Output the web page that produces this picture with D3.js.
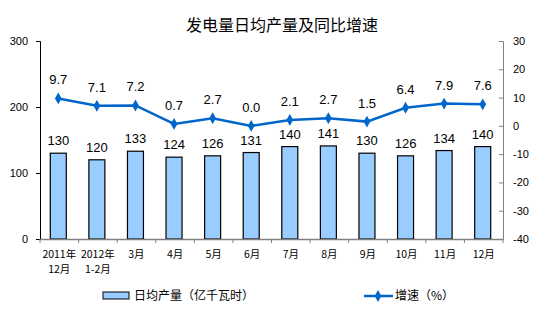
<!DOCTYPE html>
<html><head><meta charset="utf-8">
<script src="https://cdn.jsdelivr.net/npm/d3@7"></script>
<style>body{margin:0;background:#fff}svg{display:block}text{font-family:Arial,"Liberation Sans","Noto Sans CJK SC",sans-serif}</style>
</head><body><svg id="c" width="559" height="331"></svg>
<script>
const categories = ["2011年\n12月","2012年\n1-2月","3月","4月","5月","6月","7月","8月","9月","10月","11月","12月"];
const output = [130,120,133,124,126,131,140,141,130,126,134,140];
const growth = [9.7,7.1,7.2,0.7,2.7,0.0,2.1,2.7,1.5,6.4,7.9,7.6];
const leftTicks = [0,100,200,300];
const rightTicks = [-40,-30,-20,-10,0,10,20,30];

const svg = d3.select("#c");
const L=40,R=503,T=41,B=239;
const x = d3.scaleBand().domain(categories).range([L,R]);
const yL = d3.scaleLinear().domain([0,300]).range([B,T]);
const yR = d3.scaleLinear().domain([-40,30]).range([B,T]);
const cjk = '"Noto Sans CJK SC",sans-serif';

svg.append("text").attr("x",282).attr("y",31).attr("text-anchor","middle")
  .style("font-family",cjk).style("font-size","16px").text("发电量日均产量及同比增速");

// bars
const bw=16;
svg.selectAll("rect.bar").data(output).join("rect").attr("class","bar")
  .attr("x",(d,i)=>x(categories[i])+x.bandwidth()/2-bw/2-1).attr("width",bw)
  .attr("y",d=>yL(d)).attr("height",d=>B-yL(d))
  .attr("fill","#99ccff").attr("stroke","#000").attr("stroke-width",1.2);
svg.selectAll("text.bl").data(output).join("text").attr("class","bl")
  .attr("x",(d,i)=>x(categories[i])+x.bandwidth()/2-1).attr("y",d=>yL(d)-8)
  .attr("text-anchor","middle").style("font-size","13px").text(d=>d);

// axes
const gL = svg.append("g").attr("transform",`translate(${L},0)`)
  .call(d3.axisLeft(yL).tickValues(leftTicks).tickSize(4).tickPadding(8).tickFormat(d=>String(d)));
gL.select(".domain").attr("stroke","#000");
gL.selectAll("text").style("font-size","11px").attr("dy","0.35em");
const gR = svg.append("g").attr("transform",`translate(${R},0)`)
  .call(d3.axisRight(yR).tickValues(rightTicks).tickSize(-4).tickPadding(10).tickFormat(d=>String(d)));
gR.selectAll("line,.domain").attr("stroke","#808080");
gR.selectAll("text").style("font-size","11px");
const gX = svg.append("g").attr("transform",`translate(0,${B})`)
  .call(d3.axisBottom(x).tickSize(0).tickFormat(""));
gX.select(".domain").attr("stroke","#808080").attr("stroke-width",1.5);
gX.selectAll("line.t").data(d3.range(13)).join("line").attr("class","t")
  .attr("x1",i=>L+i*x.step()).attr("x2",i=>L+i*x.step()).attr("y1",0).attr("y2",4).attr("stroke","#808080");
categories.forEach((c,i)=>{
  const lines=c.split("\n");
  const t=svg.append("text").attr("x",x(c)+x.bandwidth()/2).attr("y",258).attr("text-anchor","middle")
    .style("font-size","10.5px").style("font-family",'"Noto Sans CJK SC",sans-serif');
  lines.forEach((s,j)=>t.append("tspan").attr("x",x(c)+x.bandwidth()/2).attr("dy",j?15:0).text(s));
});

// line
const cx=(i)=>x(categories[i])+x.bandwidth()/2-1;
svg.append("path").datum(growth).attr("fill","none").attr("stroke","#0066cc").attr("stroke-width",2.5)
  .attr("d",d3.line().x((d,i)=>cx(i)).y(d=>yR(d)));
svg.selectAll("path.m").data(growth).join("path").attr("class","m")
  .attr("transform",(d,i)=>`translate(${cx(i)},${yR(d)})`)
  .attr("d",d3.symbol(d3.symbolDiamond,40)).attr("fill","#0066cc");
svg.selectAll("text.gl").data(growth).join("text").attr("class","gl")
  .attr("x",(d,i)=>cx(i)).attr("y",d=>yR(d)-14).attr("text-anchor","middle")
  .style("font-size","13px").text(d=>d.toFixed(1));

// legend
svg.append("rect").attr("x",103).attr("y",292).attr("width",26).attr("height",7)
  .attr("fill","#99ccff").attr("stroke","#000");
svg.append("text").attr("x",134).attr("y",300).style("font-family",cjk).style("font-size","12px").text("日均产量（亿千瓦时）");
svg.append("line").attr("x1",364).attr("x2",393).attr("y1",296).attr("y2",296).attr("stroke","#0066cc").attr("stroke-width",2.5);
svg.append("path").attr("transform","translate(378,296)").attr("d",d3.symbol(d3.symbolDiamond,40)).attr("fill","#0066cc");
svg.append("text").attr("x",395).attr("y",300).style("font-family",cjk).style("font-size","12px").text("增速（%）");
</script></body></html>
